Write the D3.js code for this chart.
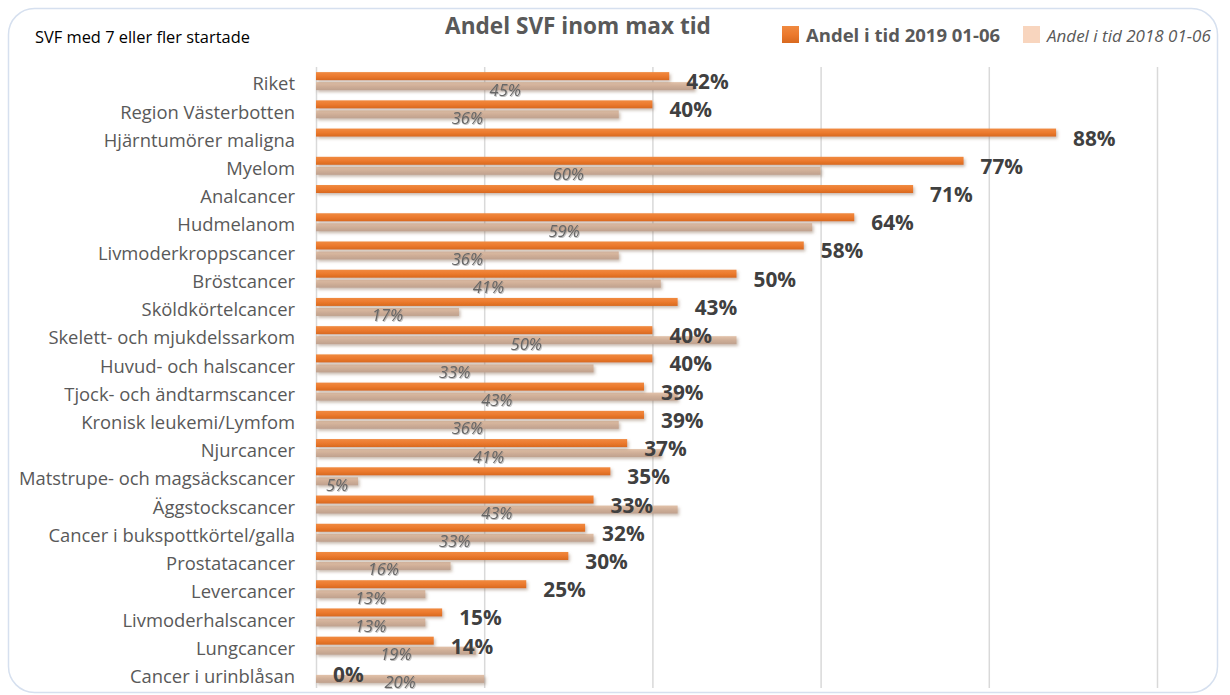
<!DOCTYPE html>
<html>
<head>
<meta charset="utf-8">
<script src="https://cdn.jsdelivr.net/npm/d3@7"></script>
<style>
  html, body { margin: 0; padding: 0; background: #fff; }
  svg { display: block; }
  text { font-family: "Open Sans", Lato, sans-serif; }
</style>
</head>
<body>
<svg id="chart" width="1230" height="695"></svg>
<script>
const categories = [
  "Riket", "Region Västerbotten", "Hjärntumörer maligna", "Myelom", "Analcancer",
  "Hudmelanom", "Livmoderkroppscancer", "Bröstcancer", "Sköldkörtelcancer",
  "Skelett- och mjukdelssarkom", "Huvud- och halscancer", "Tjock- och ändtarmscancer",
  "Kronisk leukemi/Lymfom", "Njurcancer", "Matstrupe- och magsäckscancer",
  "Äggstockscancer", "Cancer i bukspottkörtel/galla", "Prostatacancer",
  "Levercancer", "Livmoderhalscancer", "Lungcancer", "Cancer i urinblåsan"
];
const values2019 = [0.42, 0.40, 0.88, 0.77, 0.71, 0.64, 0.58, 0.50, 0.43, 0.40, 0.40, 0.39, 0.39, 0.37, 0.35, 0.33, 0.32, 0.30, 0.25, 0.15, 0.14, 0.00];
const values2018 = [0.45, 0.36, null, 0.60, null, 0.59, 0.36, 0.41, 0.17, 0.50, 0.33, 0.43, 0.36, 0.41, 0.05, 0.43, 0.33, 0.16, 0.13, 0.13, 0.19, 0.20];
const xTicks = [0, 0.2, 0.4, 0.6, 0.8, 1.0];
const seriesNames = ["Andel i tid 2019 01-06", "Andel i tid 2018 01-06"];
const titleText = "Andel SVF inom max tid";
const subtitleText = "SVF med 7 eller fler startade";

const svg = d3.select("#chart");
const defs = svg.append("defs");

const gOr = defs.append("linearGradient").attr("id", "gOrange").attr("x1", 0).attr("y1", 0).attr("x2", 0).attr("y2", 1);
gOr.append("stop").attr("offset", "0%").attr("stop-color", "#F08A40");
gOr.append("stop").attr("offset", "50%").attr("stop-color", "#EC7A2E");
gOr.append("stop").attr("offset", "100%").attr("stop-color", "#D8691F");

const gTan = defs.append("linearGradient").attr("id", "gTan").attr("x1", 0).attr("y1", 0).attr("x2", 0).attr("y2", 1);
gTan.append("stop").attr("offset", "0%").attr("stop-color", "#E2C2AA");
gTan.append("stop").attr("offset", "50%").attr("stop-color", "#CFAE97");
gTan.append("stop").attr("offset", "100%").attr("stop-color", "#BFA18E");

const shadow = defs.append("filter").attr("id", "shadow").attr("x", "-5%").attr("y", "-60%").attr("width", "115%").attr("height", "260%");
shadow.append("feDropShadow").attr("dx", 1.5).attr("dy", 2).attr("stdDeviation", 1.6).attr("flood-color", "#8a6a55").attr("flood-opacity", 0.45);

const tshadow = defs.append("filter").attr("id", "tshadow").attr("x", "-20%").attr("y", "-20%").attr("width", "140%").attr("height", "160%");
tshadow.append("feDropShadow").attr("dx", 0.8).attr("dy", 1).attr("stdDeviation", 0.6).attr("flood-color", "#777").attr("flood-opacity", 0.5);

// Frame
svg.append("rect")
  .attr("x", 8.5).attr("y", 8.5).attr("width", 1209).attr("height", 684)
  .attr("rx", 26).attr("ry", 26)
  .attr("fill", "#fff").attr("stroke", "#D6E0EF").attr("stroke-width", 1.5);

const x = d3.scaleLinear().domain([0, 1]).range([316, 1157]);
const y = d3.scaleBand().domain(categories).range([67, 688]).padding(0);

// Gridlines
const grid = svg.append("g").attr("class", "grid")
  .attr("transform", `translate(0,${67})`)
  .call(d3.axisBottom(x).tickValues(xTicks).tickSize(621).tickFormat(""));
grid.select(".domain").remove();
grid.selectAll("line").attr("stroke", "#D9D9D9").attr("stroke-width", 1.5);

// Category axis
const yAxis = svg.append("g")
  .attr("transform", `translate(${x(0)},0)`)
  .call(d3.axisLeft(y).tickSize(0).tickPadding(21));
yAxis.select(".domain").remove();
yAxis.selectAll("text")
  .attr("font-size", 18.4)
  .attr("fill", "#595959")
  .attr("dy", "0.5em");

const rows = categories.map((c, i) => ({ c, v19: values2019[i], v18: values2018[i] }));

// 2018 bars
svg.append("g").selectAll("rect")
  .data(rows.filter(d => d.v18 !== null))
  .join("rect")
  .attr("x", x(0))
  .attr("y", d => y(d.c) + y.bandwidth() / 2 + 1)
  .attr("width", d => x(d.v18) - x(0))
  .attr("height", 8)
  .attr("fill", "url(#gTan)")
  .attr("filter", "url(#shadow)");

// 2019 bars
svg.append("g").selectAll("rect")
  .data(rows.filter(d => d.v19 > 0))
  .join("rect")
  .attr("x", x(0))
  .attr("y", d => y(d.c) + y.bandwidth() / 2 - 9)
  .attr("width", d => x(d.v19) - x(0))
  .attr("height", 8)
  .attr("fill", "url(#gOrange)")
  .attr("filter", "url(#shadow)");

// 2018 labels
svg.append("g").selectAll("text")
  .data(rows.filter(d => d.v18 !== null))
  .join("text")
  .attr("x", d => x(d.v18 / 2))
  .attr("y", d => y(d.c) + y.bandwidth() / 2 + 14.5)
  .attr("text-anchor", "middle")
  .attr("font-size", 16.5)
  .attr("font-style", "italic")
  .attr("fill", "#666666")
  .attr("filter", "url(#tshadow)")
  .text(d => d3.format(".0%")(d.v18));

// 2019 labels
svg.append("g").selectAll("text")
  .data(rows)
  .join("text")
  .attr("x", d => x(d.v19) + 17)
  .attr("y", d => y(d.c) + y.bandwidth() / 2 + 8)
  .attr("font-size", 20.8)
  .attr("font-weight", "bold")
  .attr("fill", "#404040")
  .text(d => d3.format(".0%")(d.v19));

// Title
svg.append("text")
  .attr("x", 578).attr("y", 34)
  .attr("text-anchor", "middle")
  .attr("font-size", 22.6).attr("font-weight", "bold")
  .attr("fill", "#595959")
  .text(titleText);

svg.append("text")
  .attr("x", 35).attr("y", 42.5)
  .attr("font-size", 16.4)
  .attr("fill", "#000")
  .text(subtitleText);

// Legend
const legend = svg.append("g");
legend.append("rect").attr("x", 782).attr("y", 26).attr("width", 17).attr("height", 17).attr("fill", "url(#gOrange)");
legend.append("text").attr("x", 806).attr("y", 42)
  .attr("font-size", 18.5).attr("font-weight", "bold").attr("fill", "#595959")
  .text(seriesNames[0]);
legend.append("rect").attr("x", 1023).attr("y", 26).attr("width", 17).attr("height", 17).attr("fill", "#F8D5BE");
legend.append("text").attr("x", 1047).attr("y", 42)
  .attr("font-size", 17).attr("font-style", "italic").attr("fill", "#595959")
  .text(seriesNames[1]);
</script>
</body>
</html>
